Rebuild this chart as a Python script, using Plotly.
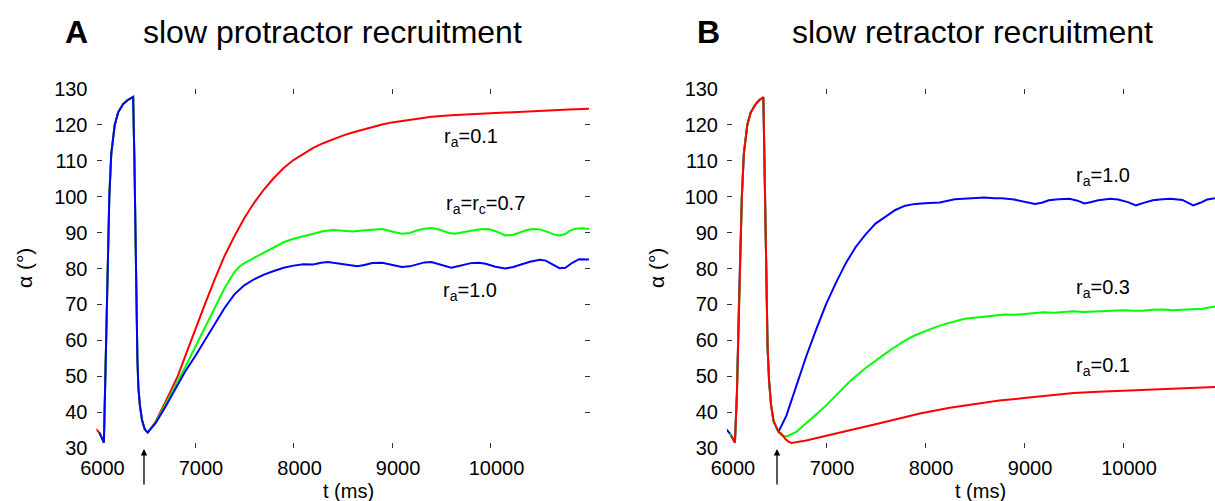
import plotly.graph_objects as go

W, H = 1215, 501
FONT = "Liberation Sans, Arial, sans-serif"

# ---------------- Panel A: slow protractor recruitment ----------------
A_spike_t = [6075, 6090, 6110, 6130, 6150, 6185, 6220, 6270, 6320, 6372, 6385, 6395, 6405, 6415,
             6425, 6440, 6462, 6490, 6520]
A_spike_a = [31.5, 50, 80, 100, 112, 120, 123.5, 125.8, 127, 127.8, 110, 90, 70, 55,
             47, 42, 37.8, 35.2, 34.3]

A_red_start_t = [5985, 6035]
A_red_start_a = [35.6, 34.0]
A_red_t = [6600, 6700, 6825, 6900, 7000, 7100, 7200, 7300, 7400, 7500, 7600, 7700, 7800, 7900,
           8000, 8100, 8200, 8300, 8400, 8500, 8600, 8700, 8800, 8900, 9000, 9200, 9400, 9600,
           9800, 10000, 10200, 10400, 10600, 10800, 11000]
A_red_a = [37.3, 42.8, 50, 55.5, 63, 70, 77, 83.5, 89, 94, 98.3, 102, 105.2, 108,
           110.2, 112, 113.6, 114.9, 116, 117, 117.9, 118.7, 119.4, 120.1, 120.7, 121.6, 122.3, 122.7,
           123, 123.2, 123.4, 123.8, 124.1, 124.3, 124.5]

A_green_start_t = [6030]
A_green_start_a = [34.3]
A_green_t = [6600, 6700, 6825, 6900, 7000, 7100, 7200, 7300, 7400, 7450, 7500, 7600, 7700, 7800,
             7900, 8000, 8100, 8200, 8300, 8400, 8500, 8600, 8700, 8800, 8900, 9000, 9100, 9180,
             9250, 9330, 9400, 9460, 9520, 9580, 9640, 9720, 9800, 9900, 9980, 10060, 10150,
             10230, 10300, 10370, 10430, 10500, 10580, 10640, 10700, 10760, 10800, 10860, 10930,
             11000]
A_green_a = [37.1, 42.1, 48.5, 52.5, 58, 63.5, 69, 74.5, 79, 80.5, 81.5, 83, 84.5, 86,
             87.3, 88.3, 89, 89.8, 90.4, 90.7, 90.5, 90.3, 90.6, 90.8, 91, 90.3, 89.7, 89.9,
             90.6, 91.1, 91.3, 91, 90.4, 89.9, 89.7, 90, 90.5, 90.9, 91, 90.3, 89.2,
             89.4, 90.1, 90.7, 91, 90.9, 90.2, 89.5, 89.2, 89.6, 90.4, 91.1, 91.2,
             91]

A_blue_start_t = [6030]
A_blue_start_a = [34.3]
A_blue_t = [6600, 6700, 6825, 6900, 7000, 7100, 7200, 7300, 7400, 7500, 7600, 7700, 7800, 7900,
            8000, 8100, 8200, 8280, 8350, 8420, 8500, 8580, 8650, 8720, 8800, 8900, 9000, 9100,
            9180, 9250, 9330, 9400, 9470, 9540, 9600, 9680, 9800, 9880, 9950, 10050, 10150,
            10230, 10300, 10400, 10500, 10560, 10620, 10700, 10760, 10830, 10900, 11000]
A_blue_a = [36.9, 41.5, 47.5, 51.3, 55.5, 60, 64.5, 69, 72.8, 75.3, 77, 78.3, 79.3, 80.2,
            80.8, 81.2, 81.1, 81.6, 81.8, 81.5, 81.1, 80.7, 80.6, 81, 81.5, 81.6, 81, 80.4,
            80.6, 81.2, 81.7, 81.8, 81.2, 80.5, 80.2, 80.7, 81.5, 81.6, 81.3, 80.5, 80,
            80.4, 81, 81.9, 82.4, 82.2, 81.3, 80.1, 80.2, 81.6, 82.6, 82.5]

# ---------------- Panel B: slow retractor recruitment ----------------
B_spike_t = [6080, 6100, 6120, 6150, 6170, 6205, 6240, 6290, 6330, 6367, 6377, 6387, 6397, 6410,
             6425, 6445, 6470, 6500, 6520]
B_spike_a = [31.5, 45, 70, 100, 112, 120, 123.5, 125.8, 127, 127.7, 112, 92, 73, 58,
             48.7, 42, 37.5, 35.5, 34.5]

B_blue_start_t = [5990, 6030]
B_blue_start_a = [35.3, 34.0]
B_blue_t = [6600, 6715, 6800, 6900, 7000, 7100, 7200, 7300, 7400, 7500, 7600, 7700, 7800, 7900,
            8000, 8150, 8300, 8450, 8600, 8700, 8775, 8900, 9000, 9110, 9180, 9250, 9350, 9460,
            9540, 9610, 9680, 9750, 9870, 9950, 10050, 10130, 10200, 10300, 10400, 10480, 10600,
            10660, 10710, 10780, 10850, 10930]
B_blue_a = [39, 48.7, 55.5, 63, 70, 76, 81.5, 86, 89.5, 92.5, 94.5, 96.3, 97.5, 98,
            98.2, 98.4, 99.3, 99.5, 99.8, 99.6, 99.6, 99.2, 98.6, 98, 98.3, 99, 99.3, 99.4,
            98.9, 98.1, 98.5, 99, 99.4, 99.2, 98.5, 97.6, 98.2, 99, 99.3, 99.4, 99.1,
            98.4, 97.6, 98.3, 99.2, 99.6]

B_green_start_t = [6030]
B_green_start_a = [34.0]
B_green_t = [6550, 6600, 6700, 6800, 6900, 7000, 7120, 7245, 7400, 7500, 7600, 7700, 7800, 7900,
             8000, 8100, 8200, 8300, 8400, 8500, 8600, 8700, 8800, 8900, 9000, 9100, 9200, 9300,
             9400, 9500, 9600, 9700, 9800, 9900, 10000, 10100, 10200, 10300, 10400, 10500, 10600,
             10700, 10800, 10930]
B_green_a = [33.5, 33.2, 34.5, 36.8, 39.3, 41.8, 45.2, 48.7, 52.3, 54.4, 56.3, 58.2, 60, 61.4,
             62.6, 63.6, 64.5, 65.3, 66, 66.3, 66.6, 66.9, 67.2, 67.1, 67.3, 67.6, 67.8, 67.7,
             68, 68.1, 67.9, 68, 68.2, 68.4, 68.4, 68.2, 68.2, 68.5, 68.6, 68.4, 68.6,
             68.8, 68.8, 69.4]

B_red_start_t = [6040]
B_red_start_a = [33.6]
B_red_t = [6550, 6590, 6620, 6650, 6800, 7000, 7250, 7500, 7750, 7960, 8250, 8500, 8750, 9000,
           9250, 9500, 9750, 10000, 10250, 10500, 10750, 10930]
B_red_a = [34, 32.5, 31.8, 31.4, 32.1, 33.3, 35, 36.6, 38.3, 39.7, 41.2, 42.3, 43.2, 43.9,
           44.6, 45.3, 45.7, 46, 46.2, 46.5, 46.8, 47]

x_ticks = [6000, 7000, 8000, 9000, 10000]
x_ticktext = ["6000", "7000", "8000", "9000", "10000"]
y_ticks = [30, 40, 50, 60, 70, 80, 90, 100, 110, 120, 130]

panel_letters = ["A", "B"]
panel_titles = ["slow protractor recruitment", "slow retractor recruitment"]
A_labels = ["r<sub>a</sub>=0.1", "r<sub>a</sub>=r<sub>c</sub>=0.7", "r<sub>a</sub>=1.0"]
A_label_t = [9802, 9944, 9792]
A_label_a = [116.6, 97.7, 73.6]
B_labels = ["r<sub>a</sub>=1.0", "r<sub>a</sub>=0.3", "r<sub>a</sub>=0.1"]
B_label_t = [9801, 9801, 9801]
B_label_a = [105.6, 74.5, 52.6]
stim_t = [6482, 6505]

RED, GREEN, BLUE = "#ff0000", "#00ff00", "#0000ff"

fig = go.Figure()


def add(t, a, color, xa, ya):
    fig.add_trace(go.Scatter(x=t, y=a, mode="lines", line=dict(color=color, width=2),
                             xaxis=xa, yaxis=ya, showlegend=False, hoverinfo="skip"))


# Panel A (blue on top)
add(A_red_start_t + A_spike_t + A_red_t, A_red_start_a + A_spike_a + A_red_a, RED, "x", "y")
add(A_green_start_t + A_spike_t + A_green_t, A_green_start_a + A_spike_a + A_green_a, GREEN, "x", "y")
add(A_blue_start_t + A_spike_t + A_blue_t, A_blue_start_a + A_spike_a + A_blue_a, BLUE, "x", "y")
# Panel B (red on top)
add(B_blue_start_t + B_spike_t + B_blue_t, B_blue_start_a + B_spike_a + B_blue_a, BLUE, "x2", "y2")
add(B_green_start_t + B_spike_t + B_green_t, B_green_start_a + B_spike_a + B_green_a, GREEN, "x2", "y2")
add(B_red_start_t + B_spike_t + B_red_t, B_red_start_a + B_spike_a + B_red_a, RED, "x2", "y2")

y_dom = [1 - 448 / H, 1 - 89 / H]
tickfont = dict(family=FONT, size=20, color="black")
common_x = dict(tickvals=x_ticks, ticktext=x_ticktext, ticks="inside", ticklen=5, tickwidth=1.2,
                tickcolor="#333", showline=False, showgrid=False, zeroline=False, mirror="ticks",
                tickfont=tickfont, ticklabelshift=6, ticklabelstandoff=6, fixedrange=True,
                automargin=False)
common_y = dict(tickvals=y_ticks, range=[30, 130], ticks="inside", ticklen=5, tickwidth=1.2,
                tickcolor="#333", showline=False, showgrid=False, zeroline=False,
                tickfont=tickfont, ticklabelstandoff=8, domain=y_dom, fixedrange=True,
                automargin=False)

fig.update_layout(
    width=W, height=H,
    margin=dict(l=0, r=0, t=0, b=0, autoexpand=False),
    paper_bgcolor="white", plot_bgcolor="white",
    xaxis=dict(common_x, domain=[96.5 / W, 590 / W], range=[6000, 11010], anchor="y"),
    yaxis=dict(common_y, anchor="x", mirror="ticks"),
    xaxis2=dict(common_x, domain=[727 / W, 1.0], range=[6000, 10929], anchor="y2"),
    yaxis2=dict(common_y, anchor="x2", mirror=False),
)

ann = []
letter_x = [76, 708]
title_x = [332, 972]
for i in range(2):
    ann.append(dict(text="<b>" + panel_letters[i] + "</b>", x=letter_x[i] / W, y=1 - 32 / H,
                    xref="paper", yref="paper", showarrow=False, xanchor="center", yanchor="middle",
                    font=dict(family=FONT, size=32, color="black")))
    ann.append(dict(text=panel_titles[i], x=title_x[i] / W, y=1 - 32 / H,
                    xref="paper", yref="paper", showarrow=False, xanchor="center", yanchor="middle",
                    font=dict(family=FONT, size=32, color="black")))

for txt, t, a in zip(A_labels, A_label_t, A_label_a):
    ann.append(dict(text=txt, x=t, y=a, xref="x", yref="y", showarrow=False,
                    font=dict(family=FONT, size=20, color="black")))
for txt, t, a in zip(B_labels, B_label_t, B_label_a):
    ann.append(dict(text=txt, x=t, y=a, xref="x2", yref="y2", showarrow=False,
                    font=dict(family=FONT, size=20, color="black")))

for t, xr in zip(stim_t, ["x", "x2"]):
    ann.append(dict(text="", x=t, y=1 - 449 / H, xref=xr, yref="paper", showarrow=True,
                    ax=0, ay=37, arrowhead=2, arrowsize=1, arrowwidth=1.3, arrowcolor="black",
                    standoff=0, startstandoff=0))

for xc in [24, 656]:
    ann.append(dict(text="α (°)", x=xc / W, y=1 - 268 / H, xref="paper", yref="paper",
                    showarrow=False, textangle=-90, xanchor="center", yanchor="middle",
                    font=dict(family=FONT, size=21, color="black")))
for xc in [348, 980]:
    ann.append(dict(text="t (ms)", x=xc / W, y=1 - 491 / H, xref="paper", yref="paper",
                    showarrow=False, xanchor="center", yanchor="middle",
                    font=dict(family=FONT, size=20, color="black")))

fig.update_layout(annotations=ann)
fig.write_html("out.html")
